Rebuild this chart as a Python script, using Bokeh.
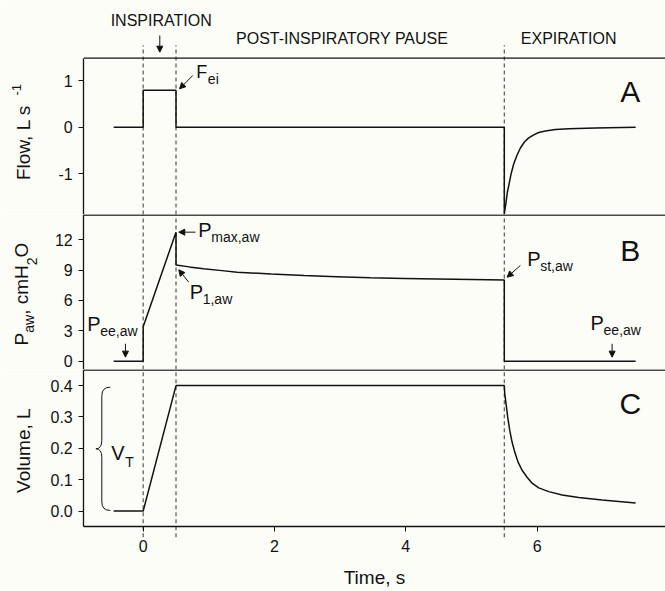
from bokeh.plotting import figure
from bokeh.layouts import column
from bokeh.models import Span, Label, Arrow, NormalHead, FixedTicker, Range1d, PrintfTickFormatter
from bokeh.embed import file_html
from bokeh.resources import INLINE

# ---- data -----------------------------------------------------------------
# airflow (L/s)
flow_t = [-0.45, 0.0, 0.0, 0.5, 0.5, 5.5, 5.5, 5.527, 5.547, 5.568, 5.603, 5.644, 5.695,
          5.745, 5.806, 5.872, 5.948, 6.024, 6.126, 6.278, 6.481, 6.888, 7.5]
flow_v = [0.0, 0.0, 0.8, 0.8, 0.0, 0.0, -1.87, -1.62, -1.40, -1.26, -1.01, -0.79, -0.60,
          -0.45, -0.32, -0.23, -0.165, -0.115, -0.08, -0.05, -0.035, -0.015, 0.0]

# airway pressure (cmH2O)
paw_t = [-0.45, 0.0, 0.0, 0.5, 0.5, 0.7, 0.92, 1.2, 1.43, 1.95, 2.45, 2.95, 3.46, 3.97,
         4.48, 5.0, 5.5, 5.5, 7.5]
paw_v = [0.0, 0.0, 3.4, 12.75, 9.5, 9.32, 9.13, 8.95, 8.8, 8.62, 8.47, 8.35, 8.24, 8.18,
         8.12, 8.07, 8.02, 0.0, 0.0]

# lung volume (L)
vol_t = [-0.45, 0.0, 0.5, 5.5, 5.507, 5.527, 5.552, 5.583, 5.618, 5.659, 5.71, 5.771,
         5.847, 5.923, 6.024, 6.177, 6.38, 6.634, 6.989, 7.5]
vol_v = [0.0, 0.0, 0.4, 0.4, 0.374, 0.342, 0.299, 0.257, 0.22, 0.188, 0.156, 0.13,
         0.108, 0.089, 0.074, 0.062, 0.051, 0.043, 0.035, 0.026]

# start of inspiration, end of inspiration, start of expiration (s)
phase_edges = [0.0, 0.5, 5.5]

flow_ticks = [-1, 0, 1]
paw_ticks = [0, 3, 6, 9, 12]
vol_ticks = [0.0, 0.1, 0.2, 0.3, 0.4]
time_ticks = [0, 2, 4, 6]

# axis extents shown with axis lines
T_MIN, T_MAX = -0.905, 7.955
FLOW_LIM = (-1.8855, 1.49)
PAW_LIM = (-0.82, 14.496)
VOL_LIM = (-0.049, 0.4513)

FONT = "Liberation Sans"
INK = "#111111"
DASH = "#555555"
BG = "#fdfdf8"

x_range = Range1d(-2.173, T_MAX)


def panel(height, y_lo, y_hi, ticks, lim):
    p = figure(width=665, height=height, x_range=x_range, y_range=Range1d(y_lo, y_hi),
               output_backend="svg", toolbar_location=None, x_axis_location=None,
               min_border=0)
    p.outline_line_color = None
    p.grid.visible = False
    p.background_fill_color = BG
    p.border_fill_color = BG
    ax = p.yaxis[0]
    ax.fixed_location = T_MIN
    ax.bounds = lim
    ax.ticker = FixedTicker(ticks=ticks)
    ax.major_label_overrides = {-1: "-1"}
    ax.minor_tick_line_color = None
    ax.major_tick_in = 0
    ax.major_tick_out = 5
    ax.major_label_standoff = 6
    ax.major_label_text_font = FONT
    ax.major_label_text_font_size = "16px"
    ax.major_label_text_color = INK
    ax.axis_line_width = 1.3
    ax.axis_line_color = INK
    ax.major_tick_line_color = INK
    return p


def top_edge(p, y):
    p.segment(x0=[T_MIN], y0=[y], x1=[T_MAX + 1], y1=[y], line_color=INK, line_width=1.3)


def phase_lines(p, y0, y1):
    n = len(phase_edges)
    p.segment(x0=phase_edges, y0=[y0] * n, x1=phase_edges, y1=[y1] * n,
              line_color=DASH, line_width=1.2, line_dash="4 3")


def txt(p, x, y, s, size, **kw):
    p.add_layout(Label(x=x, y=y, text=s, text_font=FONT, text_font_size=size,
                       text_color=INK, **kw))


def vtxt(p, x, y, s, size):
    txt(p, x, y, s, size, angle=90, angle_units="deg")


def arrow(p, x0, y0, x1, y1):
    p.add_layout(Arrow(x_start=x0, y_start=y0, x_end=x1, y_end=y1, line_width=1,
                       line_color=INK,
                       end=NormalHead(size=6, fill_color=INK, line_color=INK, line_width=1)))


# ---- panel A: flow --------------------------------------------------------
pa = panel(214, FLOW_LIM[0], 2.7365, flow_ticks, FLOW_LIM)
phase_lines(pa, FLOW_LIM[0], 1.771)
top_edge(pa, FLOW_LIM[1])
pa.line(flow_t, flow_v, line_color=INK, line_width=1.5)
txt(pa, 0.274, 2.125, "INSPIRATION", "16px", text_align="center")
arrow(pa, 0.253, 1.98, 0.253, 1.62)
txt(pa, 3.03, 1.728, "POST-INSPIRATORY PAUSE", "16px", text_align="center")
txt(pa, 6.48, 1.728, "EXPIRATION", "16px", text_align="center")
txt(pa, 0.81, 0.972, "F", "18px")
txt(pa, 0.81, 0.972, "ei", "14px", x_offset=11.5, y_offset=-4.5)
arrow(pa, 0.755, 1.117, 0.554, 0.829)
txt(pa, 7.42, 0.419, "A", "30px", text_align="center")
vtxt(pa, -1.666, -1.14, "Flow, L s", "19px")
vtxt(pa, -1.858, 0.685, "-1", "13px")

# ---- panel B: airway pressure ---------------------------------------------
pb = panel(155, PAW_LIM[0], PAW_LIM[1], paw_ticks, PAW_LIM)
phase_lines(pb, PAW_LIM[0], PAW_LIM[1])
top_edge(pb, PAW_LIM[1] - 0.05)
pb.line(paw_t, paw_v, line_color=INK, line_width=1.5)
arrow(pb, 0.796, 12.75, 0.542, 12.75)
txt(pb, 0.839, 11.86, "P", "20px")
txt(pb, 0.839, 11.86, "max,aw", "14px", x_offset=13, y_offset=-4)
arrow(pb, 0.694, 7.81, 0.542, 9.03)
txt(pb, 0.708, 5.73, "P", "20px")
txt(pb, 0.708, 5.73, "1,aw", "14px", x_offset=13, y_offset=-4)
txt(pb, -0.851, 2.54, "P", "20px")
txt(pb, -0.851, 2.54, "ee,aw", "14px", x_offset=13, y_offset=-4)
arrow(pb, -0.27, 1.72, -0.27, 0.40)
arrow(pb, 5.745, 9.46, 5.543, 8.30)
txt(pb, 5.849, 9.03, "P", "20px")
txt(pb, 5.849, 9.03, "st,aw", "14px", x_offset=13, y_offset=-4)
txt(pb, 6.814, 2.71, "P", "20px")
txt(pb, 6.814, 2.71, "ee,aw", "14px", x_offset=13, y_offset=-4)
arrow(pb, 7.142, 1.72, 7.142, 0.40)
txt(pb, 7.42, 9.29, "B", "30px", text_align="center")
# axis title P_aw, cmH2O
vtxt(pb, -1.69, 1.551, "P", "19px")
vtxt(pb, -1.617, 2.80, "aw", "14px")
vtxt(pb, -1.69, 4.58, ", cmH", "19px")
vtxt(pb, -1.617, 9.48, "2", "14px")
vtxt(pb, -1.69, 10.25, "O", "19px")

# ---- panel C: volume ------------------------------------------------------
pc = panel(222, -0.2564, VOL_LIM[1], vol_ticks, VOL_LIM)
phase_lines(pc, -0.0838, VOL_LIM[1])
top_edge(pc, VOL_LIM[1] - 0.0016)
pc.line(vol_t, vol_v, line_color=INK, line_width=1.5)
pc.yaxis[0].formatter = PrintfTickFormatter(format="%.1f")
pc.xaxis.visible = True
from bokeh.models import LinearAxis
xa = LinearAxis(fixed_location=VOL_LIM[0], bounds=(T_MIN, T_MAX))
pc.add_layout(xa, "below")
xa.ticker = FixedTicker(ticks=time_ticks)
xa.minor_tick_line_color = None
xa.major_tick_in = 0
xa.major_tick_out = 5
xa.major_label_standoff = 9
xa.major_label_text_font = FONT
xa.major_label_text_font_size = "16px"
xa.major_label_text_color = INK
xa.axis_line_width = 1.3
xa.axis_line_color = INK
xa.major_tick_line_color = INK
xa.axis_label = "Time, s"
xa.axis_label_text_font = FONT
xa.axis_label_text_font_size = "19px"
xa.axis_label_text_font_style = "normal"
xa.axis_label_text_color = INK
xa.axis_label_standoff = 11
txt(pc, 7.42, 0.289, "C", "30px", text_align="center")
vtxt(pc, -1.666, 0.058, "Volume, L", "19px")
txt(pc, -0.487, 0.150, "V", "20px")
txt(pc, -0.487, 0.150, "T", "14px", x_offset=14, y_offset=-6)

# curly brace spanning the tidal volume
bx_tip, bx_sp, bx_mid = -0.50, -0.63, -0.72
by_top, by_bot = 0.395, 0.002
by_mid = (by_top + by_bot) / 2
d = 0.027
pc.quadratic(x0=[bx_tip, bx_sp, bx_sp, bx_sp], y0=[by_top, by_mid + d, by_mid - d, by_bot + d],
             x1=[bx_sp, bx_mid, bx_mid, bx_tip], y1=[by_top - d, by_mid, by_mid, by_bot],
             cx=[bx_sp, bx_sp, bx_sp, bx_sp], cy=[by_top, by_mid, by_mid, by_bot],
             line_color=INK, line_width=1)
pc.segment(x0=[bx_sp, bx_sp], y0=[by_top - d, by_mid - d], x1=[bx_sp, bx_sp], y1=[by_mid + d, by_bot + d],
           line_color=INK, line_width=1)

layout = column(pa, pb, pc, spacing=0)
open("out.html", "w").write(file_html(layout, INLINE))
